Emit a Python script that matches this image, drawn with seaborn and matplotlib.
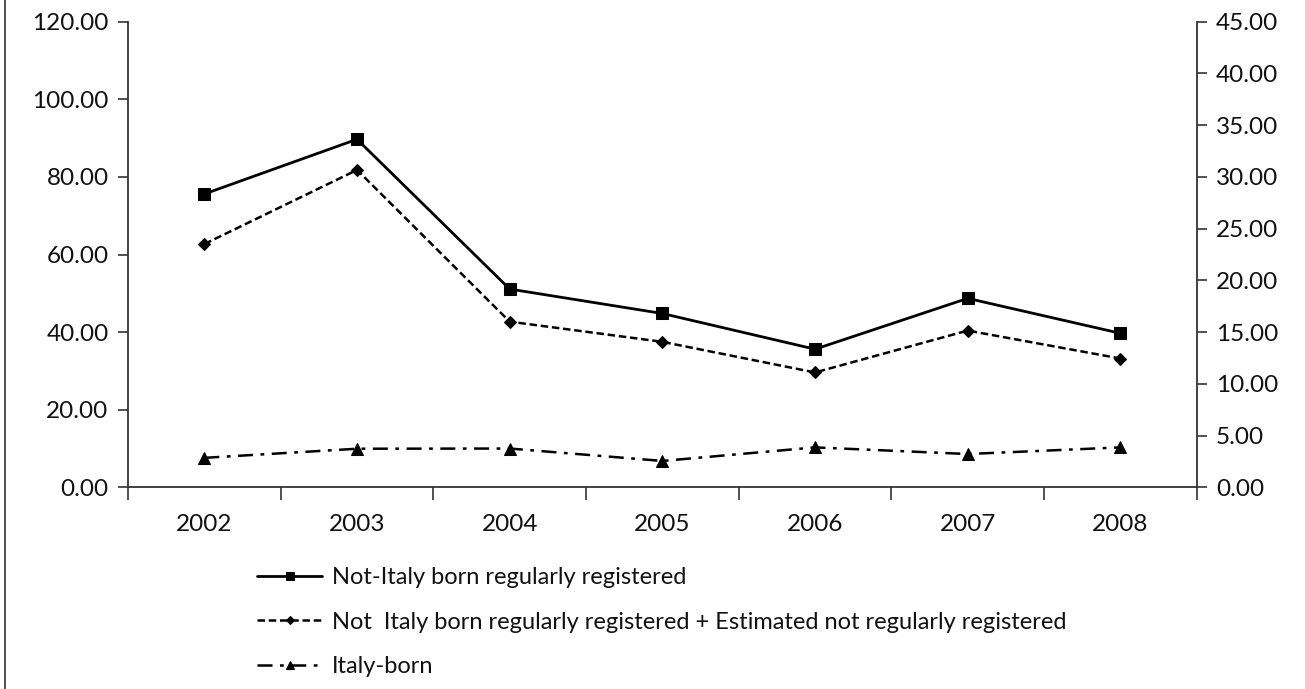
import matplotlib
matplotlib.use("Agg")
import matplotlib.pyplot as plt
import seaborn as sns
import pandas as pd
from matplotlib.lines import Line2D
from matplotlib.ticker import MultipleLocator, FormatStrFormatter, FixedLocator

# data
years = ["2002", "2003", "2004", "2005", "2006", "2007", "2008"]
not_italy_registered = [75.6, 89.7, 51.1, 44.8, 35.6, 48.7, 39.7]
not_italy_plus_estimated = [62.7, 81.8, 42.7, 37.5, 29.6, 40.4, 33.2]
italy_born = [2.85, 3.73, 3.75, 2.55, 3.86, 3.22, 3.86]  # right axis

labels = ["Not-Italy born regularly registered",
          "Not  Italy born regularly registered + Estimated not regularly registered",
          "Italy-born"]

df = pd.DataFrame({"year": years, "a": not_italy_registered,
                   "b": not_italy_plus_estimated, "c": italy_born})

sns.set_style("ticks")
plt.rcParams["font.family"] = ["Lato", "DejaVu Sans"]

fig = plt.figure(figsize=(13.05, 6.89), dpi=100)
ax = fig.add_axes([0.0981, 0.2927, 0.917 - 0.0981, 0.9685 - 0.2927])
ax2 = ax.twinx()

sns.lineplot(data=df, x="year", y="a", ax=ax, color="black", linewidth=2.0,
             marker="s", markersize=9, markeredgecolor="black", label=labels[0], legend=False)
sns.lineplot(data=df, x="year", y="b", ax=ax, color="black", linewidth=1.8,
             linestyle=(0, (3, 1.5)), marker="D", markersize=6.5, markeredgecolor="black",
             label=labels[1], legend=False)
sns.lineplot(data=df, x="year", y="c", ax=ax2, color="black", linewidth=1.8,
             linestyle=(0, (6, 3, 1.5, 3)), marker="^", markersize=8.5, markeredgecolor="black",
             label=labels[2], legend=False)

ax.set_xlim(-0.5, 6.5)
ax.set_ylim(0, 120)
ax2.set_ylim(0, 45)
ax.yaxis.set_major_locator(MultipleLocator(20))
ax2.yaxis.set_major_locator(MultipleLocator(5))
ax.yaxis.set_major_formatter(FormatStrFormatter("%.2f"))
ax2.yaxis.set_major_formatter(FormatStrFormatter("%.2f"))

ax.set_xlabel("")
ax.set_ylabel("")
ax2.set_ylabel("")
ax.set_xticks(range(len(years)))
ax.set_xticklabels(years)
ax.xaxis.set_minor_locator(FixedLocator([i + 0.5 for i in range(-1, 7)]))
ax.tick_params(axis="x", which="major", length=0, pad=19, labelsize=17.5)
ax.tick_params(axis="x", which="minor", length=9, width=1.2, color="#333333")
ax.tick_params(axis="y", length=7, width=1.2, color="#333333", labelsize=17.5, pad=7)
ax2.tick_params(axis="y", length=7, width=1.2, color="#333333", labelsize=17.5, pad=7)
for t in ax.get_xticklabels() + ax.get_yticklabels() + ax2.get_yticklabels():
    t.set_color("#111111")

for a in (ax, ax2):
    a.spines["top"].set_visible(False)
    for s in ("left", "right", "bottom"):
        a.spines[s].set_linewidth(1.3)
        a.spines[s].set_color("#333333")
ax.spines["right"].set_visible(False)
ax2.spines["left"].set_visible(False)
ax2.spines["bottom"].set_visible(False)

h1, l1 = ax.get_legend_handles_labels()
h2, l2 = ax2.get_legend_handles_labels()
leg = fig.legend(h1 + h2, l1 + l2, loc="upper left", bbox_to_anchor=(0.197, 0.177),
                 frameon=False, fontsize=17, markerscale=0.6, handlelength=2.75,
                 handletextpad=0.42, labelspacing=1.0, borderaxespad=0, borderpad=0)
for t in leg.get_texts():
    t.set_color("#111111")

fig.add_artist(Line2D([0.004, 0.004], [0, 1], transform=fig.transFigure,
                      color="#333333", linewidth=1.2))

fig.savefig("out.png", dpi=100, facecolor="white")
